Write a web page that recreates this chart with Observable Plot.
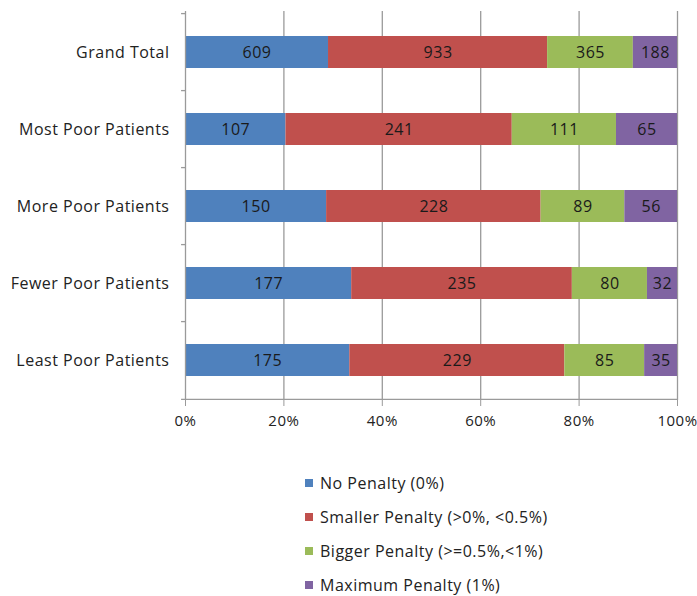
<!DOCTYPE html>
<html><head><meta charset="utf-8">
<script src="https://cdn.jsdelivr.net/npm/d3@7"></script>
<script src="https://cdn.jsdelivr.net/npm/@observablehq/plot@0.6"></script>
<style>
body{margin:0;background:#fff;font-family:"Open Sans", sans-serif;}
#legend{padding-left:305px;margin-top:26px;font-size:16px;letter-spacing:0.5px;color:#222;}
#legend div{height:34px;display:flex;align-items:center;}
#legend span.sw{display:inline-block;width:8px;height:8px;margin-right:7px;}
</style></head>
<body>
<div id="chart"></div>
<div id="legend"></div>
<script>
const categories = ["Grand Total","Most Poor Patients","More Poor Patients","Fewer Poor Patients","Least Poor Patients"];
const series = ["No Penalty (0%)","Smaller Penalty (>0%, <0.5%)","Bigger Penalty (>=0.5%,<1%)","Maximum Penalty (1%)"];
const colors = ["#4F81BD","#C0504D","#9BBB59","#8064A2"];
const noPenalty = [609,107,150,177,175];
const smallerPenalty = [933,241,228,235,229];
const biggerPenalty = [365,111,89,80,85];
const maximumPenalty = [188,65,56,32,35];
const xTicks = [0,0.2,0.4,0.6,0.8,1];

const valuesBySeries = [noPenalty, smallerPenalty, biggerPenalty, maximumPenalty];
const data = [];
categories.forEach((c,i)=>series.forEach((s,j)=>data.push({category:c, series:s, value:valuesBySeries[j][i]})));

const stack = {x:"value", y:"category", z:"series", order:series, offset:"normalize"};
const gray = "#9a9a9a";
const half = (400-11)/5/2;

const chart = Plot.plot({
  width:697, height:440,
  marginLeft:185, marginRight:20, marginTop:11, marginBottom:40,
  style:{fontFamily:"'Open Sans', sans-serif", fontSize:"16px", letterSpacing:"0.5px", color:"#222", background:"#fff"},
  x:{domain:[0,1]},
  y:{domain:categories, paddingInner:0.59, paddingOuter:0.295},
  color:{domain:series, range:colors},
  marks:[
    Plot.ruleX(xTicks.slice(1), {stroke:gray, strokeWidth:1.3}),
    Plot.barX(data, Plot.stackX({...stack, fill:"series"})),
    Plot.text(data, Plot.stackX({...stack, text:"value", fill:"#1a1a1a", fontSize:16})),
    Plot.ruleX([0], {stroke:gray, strokeWidth:1.3}),
    Plot.ruleY(categories, {y:d=>d, x1:-0.008, x2:0, dy:-half, stroke:gray, strokeWidth:1.3}),
    Plot.ruleY(categories.slice(-1), {y:d=>d, x1:-0.008, x2:1, dy:half, stroke:gray, strokeWidth:1.3}),
    Plot.axisX({ticks:xTicks, tickFormat:d3.format(".0%"), tickSize:6, tickPadding:9, stroke:gray, fontSize:15, color:"#222", label:null}),
    Plot.axisY({tickSize:0, tickPadding:16, fontSize:16, label:null})
  ]
});
document.getElementById("chart").append(chart);

const leg = document.getElementById("legend");
series.forEach((s,i)=>{
  const d=document.createElement("div");
  const sw=document.createElement("span"); sw.className="sw"; sw.style.background=colors[i];
  d.append(sw, document.createTextNode(s));
  leg.append(d);
});
</script>
</body></html>
